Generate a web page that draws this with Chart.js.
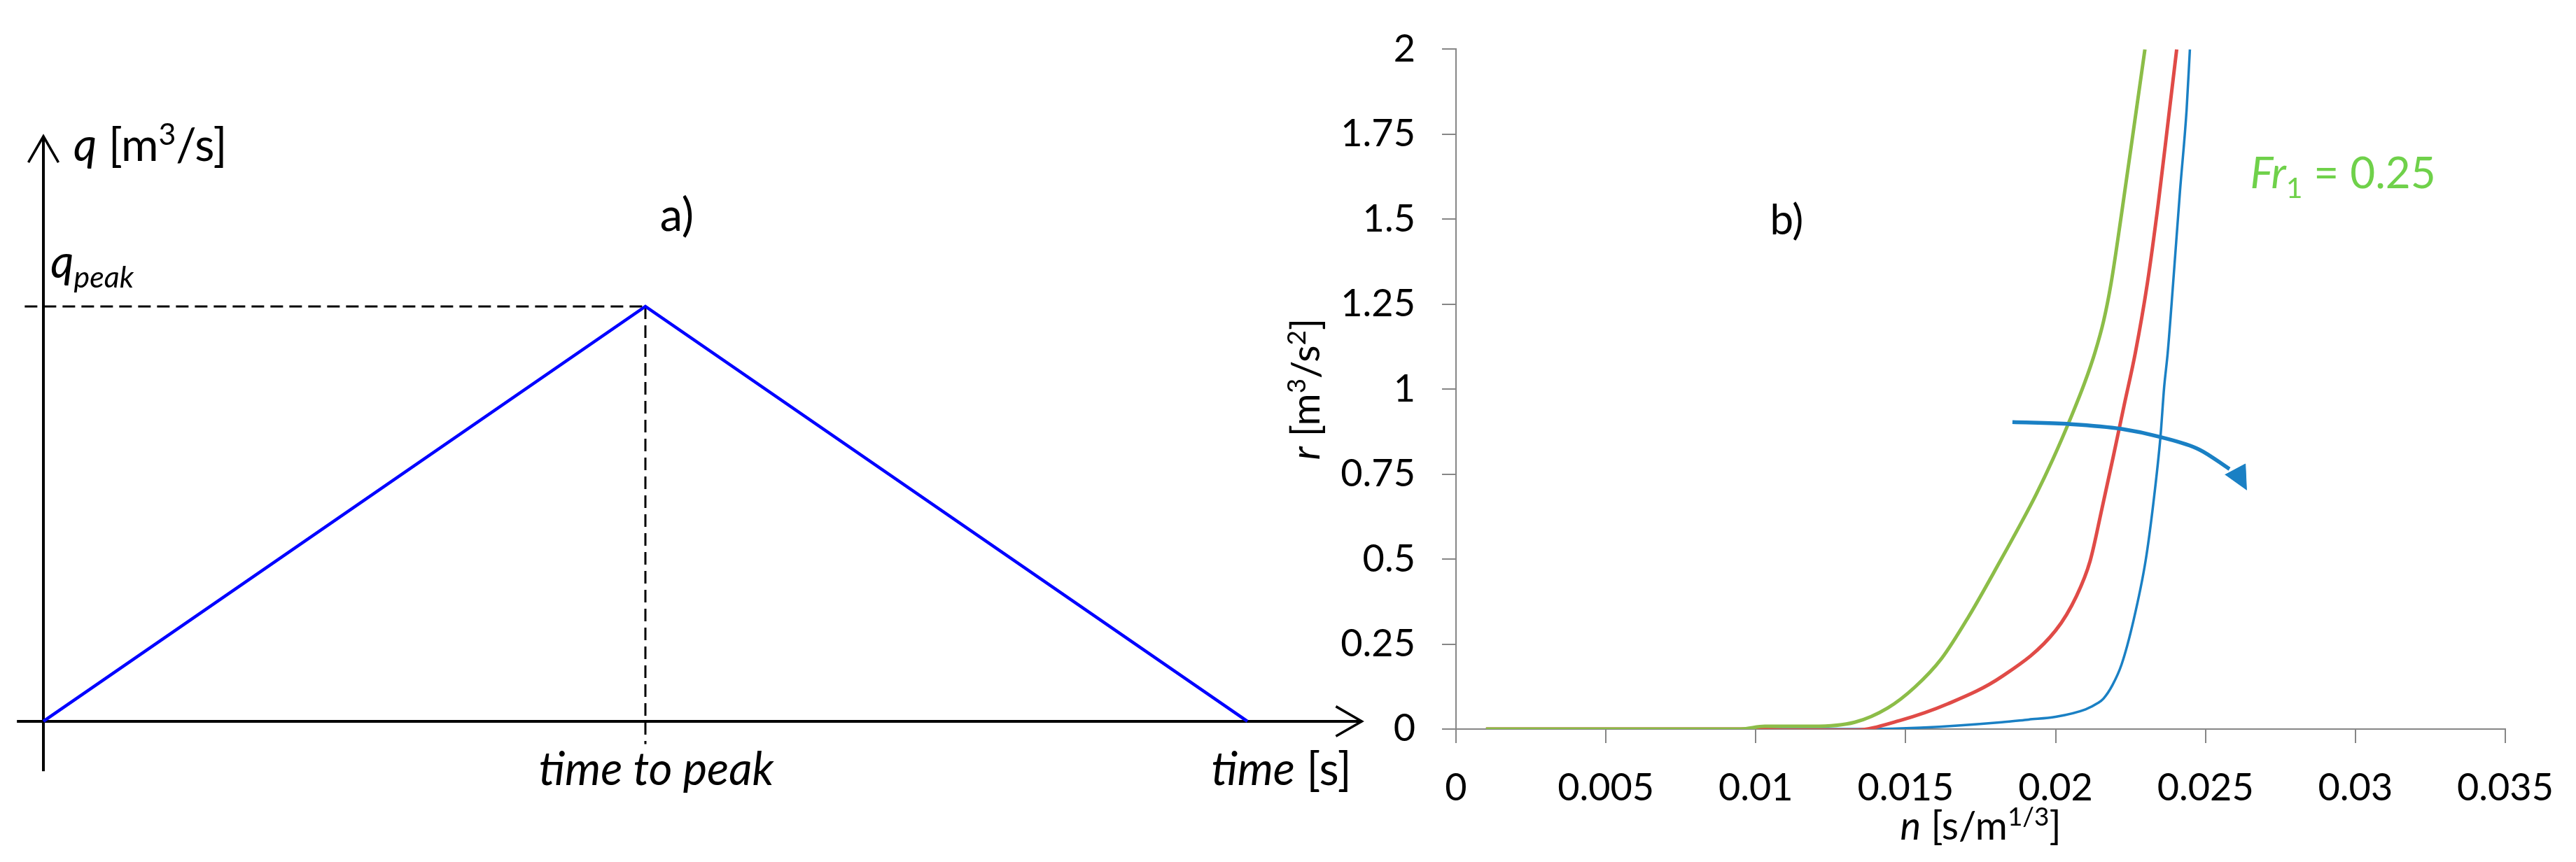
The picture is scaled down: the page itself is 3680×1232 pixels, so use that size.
<!DOCTYPE html>
<html>
<head>
<meta charset="utf-8">
<script src="https://cdn.jsdelivr.net/npm/chart.js@4.4.1/dist/chart.umd.min.js"></script>
<style>
  html, body { margin: 0; padding: 0; background: #fff; }
  body { width: 3680px; height: 1232px; position: relative; overflow: hidden; }
  canvas { position: absolute; top: 0; }
  #hydro { left: 0; }
  #resist { left: 1790px; }
</style>
</head>
<body>
<canvas id="hydro" width="1960" height="1232"></canvas>
<canvas id="resist" width="1890" height="1232"></canvas>
<script>
// ---- panel a) : triangular hydrograph sketch (time to peak = 1, q_peak = 1)
var hydroTime = [0, 1, 2];
var hydroFlow = [0, 1, 0];

// sketch helper lines, same units
var timeAxisT = [-0.044, 2.19];
var timeAxisQ = [0, 0];
var timeArrowT = [2.147, 2.19, 2.147];
var timeArrowQ = [0.036, 0, -0.036];
var flowAxisT = [0, 0];
var flowAxisQ = [-0.12, 1.41];
var flowArrowT = [-0.025, 0, 0.025];
var flowArrowQ = [1.347, 1.41, 1.347];
var peakDashT = [-0.031, 1];
var peakDashQ = [1, 1];
var peakDropT = [1, 1];
var peakDropQ = [1, -0.055];

// ---- panel b) : r [m3/s2] against Manning n
var nGreen = [0.001, 0.0095, 0.0103, 0.0119, 0.0133, 0.0144, 0.0153, 0.0162, 0.0171, 0.01815, 0.01888, 0.01936, 0.01991, 0.02054, 0.02097, 0.02131, 0.0216, 0.02185, 0.0222, 0.02264, 0.02298];
var rGreen = [0, 0, 0.008, 0.008, 0.02, 0.062, 0.123, 0.208, 0.331, 0.494, 0.611, 0.692, 0.794, 0.923, 1.019, 1.107, 1.2, 1.311, 1.516, 1.788, 2.0];

var nRed = [0.001, 0.00996, 0.0110, 0.0133, 0.0148, 0.0164, 0.0182, 0.0200, 0.0207, 0.02115, 0.02155, 0.02192, 0.02228, 0.02266, 0.02306, 0.02343, 0.02377, 0.02404];
var rRed = [0, 0, -0.003, -0.003, 0.025, 0.074, 0.154, 0.29, 0.392, 0.494, 0.65, 0.8, 0.95, 1.107, 1.311, 1.55, 1.8, 2.0];

var nBlue = [0.001, 0.0137, 0.0155, 0.0182, 0.0191, 0.0200, 0.0210, 0.0214, 0.0216, 0.0219, 0.0222, 0.0226, 0.0230, 0.02326, 0.0235, 0.02362, 0.02374, 0.02392, 0.02415, 0.02437, 0.02448];
var rBlue = [0, 0, 0.004, 0.02, 0.028, 0.036, 0.058, 0.076, 0.09, 0.13, 0.19, 0.32, 0.494, 0.664, 0.862, 1.005, 1.107, 1.311, 1.583, 1.822, 2.0];

// curved arrow (direction of increasing Fr1)
var arrowN = [0.01856, 0.0205, 0.0222, 0.0235, 0.0248, 0.0258];
var arrowR = [0.903, 0.897, 0.883, 0.859, 0.822, 0.765];
var headN = [0.02565, 0.02633, 0.02637];
var headR = [0.748, 0.780, 0.703];

var xTickLabels = ['0', '0.005', '0.01', '0.015', '0.02', '0.025', '0.03', '0.035'];
var yTickLabels = ['0', '0.25', '0.5', '0.75', '1', '1.25', '1.5', '1.75', '2'];

function pts(xs, ys) {
  return xs.map(function(x, i) { return {x: x, y: ys[i]}; });
}

// draw a run of text pieces (italic, super/subscript) on a canvas
function drawRuns(ctx, x, y, runs, size, color, align) {
  var parts = runs.map(function(r) {
    var small = r[1].indexOf('su') >= 0;
    var italic = r[1].indexOf('i') === 0;
    var fs = small ? size * 0.66 : size;
    var font = (italic ? 'italic ' : '') + fs + 'px Lato';
    ctx.font = font;
    var dy = 0;
    if (r[1].indexOf('sup') >= 0) dy = -size * 0.36;
    if (r[1].indexOf('sub') >= 0) dy = size * 0.22;
    return {t: r[0], font: font, w: ctx.measureText(r[0]).width, dy: dy};
  });
  var total = parts.reduce(function(s, p) { return s + p.w; }, 0);
  var cx = align === 'center' ? x - total / 2 : x;
  ctx.fillStyle = color;
  ctx.textBaseline = 'alphabetic';
  ctx.textAlign = 'left';
  parts.forEach(function(p) {
    ctx.font = p.font;
    ctx.fillText(p.t, cx, y + p.dy);
    cx += p.w;
  });
}

var textsA = [
  {runs: [['q', 'i'], [' [m', ''], ['3', 'sup'], ['/s]', '']], x: 0.05, y: 1.35},
  {runs: [['q', 'i'], ['peak', 'isub']], x: 0.012, y: 1.069},
  {runs: [['a)', '']], x: 1.024, y: 1.182},
  {runs: [['time to peak', 'i']], x: 0.823, y: -0.153},
  {runs: [['time', 'i'], [' [s]', '']], x: 1.94, y: -0.153}
];

var textsB = [
  {runs: [['b)', '']], x: 0.01047, y: 1.4545, size: 60, color: '#000'},
  {runs: [['Fr', 'i'], ['1', 'sub'], [' = 0.25', '']], x: 0.02649, y: 1.591, size: 62, color: '#6fd14a'},
  {runs: [['n', 'i'], [' [s/m', ''], ['1/3', 'sup'], [']', '']], x: 0.0175, y: -0.325, size: 56, color: '#000', align: 'center'}
];

var textPlugin = {
  id: 'sketchText',
  afterDraw: function(chart) {
    var ctx = chart.ctx;
    var xs = chart.scales.x, ys = chart.scales.y;
    var list = chart.canvas.id === 'hydro' ? textsA : textsB;
    ctx.save();
    list.forEach(function(t) {
      drawRuns(ctx, xs.getPixelForValue(t.x), ys.getPixelForValue(t.y), t.runs,
        t.size || 65, t.color || '#000', t.align || 'left');
    });
    if (chart.canvas.id === 'resist') {
      ctx.translate(xs.getPixelForValue(-0.00455), ys.getPixelForValue(1.0));
      ctx.rotate(-Math.PI / 2);
      drawRuns(ctx, 0, 0, [['r', 'i'], [' [m', ''], ['3', 'sup'], ['/s', ''], ['2', 'sup'], [']', '']], 56, '#000', 'center');
    }
    ctx.restore();
  }
};

function line(data, color, width, extra) {
  var d = {data: data, borderColor: color, backgroundColor: color, borderWidth: width,
    showLine: true, pointRadius: 0, fill: false};
  for (var k in extra) d[k] = extra[k];
  return d;
}

new Chart(document.getElementById('hydro'), {
  type: 'scatter',
  data: {
    datasets: [
      line(pts(hydroTime, hydroFlow), '#0000ff', 4.5),
      line(pts(peakDashT, peakDashQ), '#000', 3, {borderDash: [18, 9]}),
      line(pts(peakDropT, peakDropQ), '#000', 3, {borderDash: [18, 9]}),
      line(pts(timeAxisT, timeAxisQ), '#000', 4),
      line(pts(timeArrowT, timeArrowQ), '#000', 3.5),
      line(pts(flowAxisT, flowAxisQ), '#000', 4),
      line(pts(flowArrowT, flowArrowQ), '#000', 3.5)
    ]
  },
  options: {
    responsive: false,
    animation: false,
    devicePixelRatio: 1,
    events: [],
    layout: {padding: 0},
    plugins: {legend: {display: false}, tooltip: {enabled: false}},
    scales: {
      x: {type: 'linear', display: false, min: -0.0721, max: 2.2070},
      y: {type: 'linear', display: false, min: -0.3390, max: 1.7386}
    }
  },
  plugins: [textPlugin]
});

var axisGrey = '#868686';
new Chart(document.getElementById('resist'), {
  type: 'scatter',
  data: {
    datasets: [
      line(pts(headN, headR), '#1a80c4', 1, {fill: 'shape'}),
      line(pts(arrowN, arrowR), '#1a80c4', 5.5, {cubicInterpolationMode: 'monotone'}),
      line(pts(nGreen, rGreen), '#8cbd48', 5, {cubicInterpolationMode: 'monotone'}),
      line(pts(nRed, rRed), '#e04b47', 5, {cubicInterpolationMode: 'monotone'}),
      line(pts(nBlue, rBlue), '#1a80c4', 3.5, {cubicInterpolationMode: 'monotone'})
    ]
  },
  options: {
    responsive: false,
    animation: false,
    devicePixelRatio: 1,
    events: [],
    layout: {padding: {top: 63, right: 99, left: 0, bottom: 0}},
    plugins: {legend: {display: false}, tooltip: {enabled: false}},
    scales: {
      x: {
        type: 'linear', min: 0, max: 0.035,
        afterFit: function(s) { s.height = 190; },
        border: {display: true, color: axisGrey, width: 2},
        grid: {drawOnChartArea: false, drawTicks: true, tickLength: 20, color: axisGrey, lineWidth: 2},
        ticks: {
          stepSize: 0.005, autoSkip: false, maxRotation: 0, padding: 32,
          color: '#000', font: {family: 'Lato', size: 54},
          callback: function(v) { return xTickLabels[Math.round(v / 0.005)]; }
        }
      },
      y: {
        type: 'linear', min: 0, max: 2,
        afterFit: function(s) { s.width = 290; },
        border: {display: true, color: axisGrey, width: 2},
        grid: {drawOnChartArea: false, drawTicks: true, tickLength: 20, color: axisGrey, lineWidth: 2},
        ticks: {
          stepSize: 0.25, autoSkip: false, padding: 38,
          color: '#000', font: {family: 'Lato', size: 54},
          callback: function(v) { return yTickLabels[Math.round(v / 0.25)]; }
        }
      }
    }
  },
  plugins: [textPlugin]
});
</script>
</body>
</html>
